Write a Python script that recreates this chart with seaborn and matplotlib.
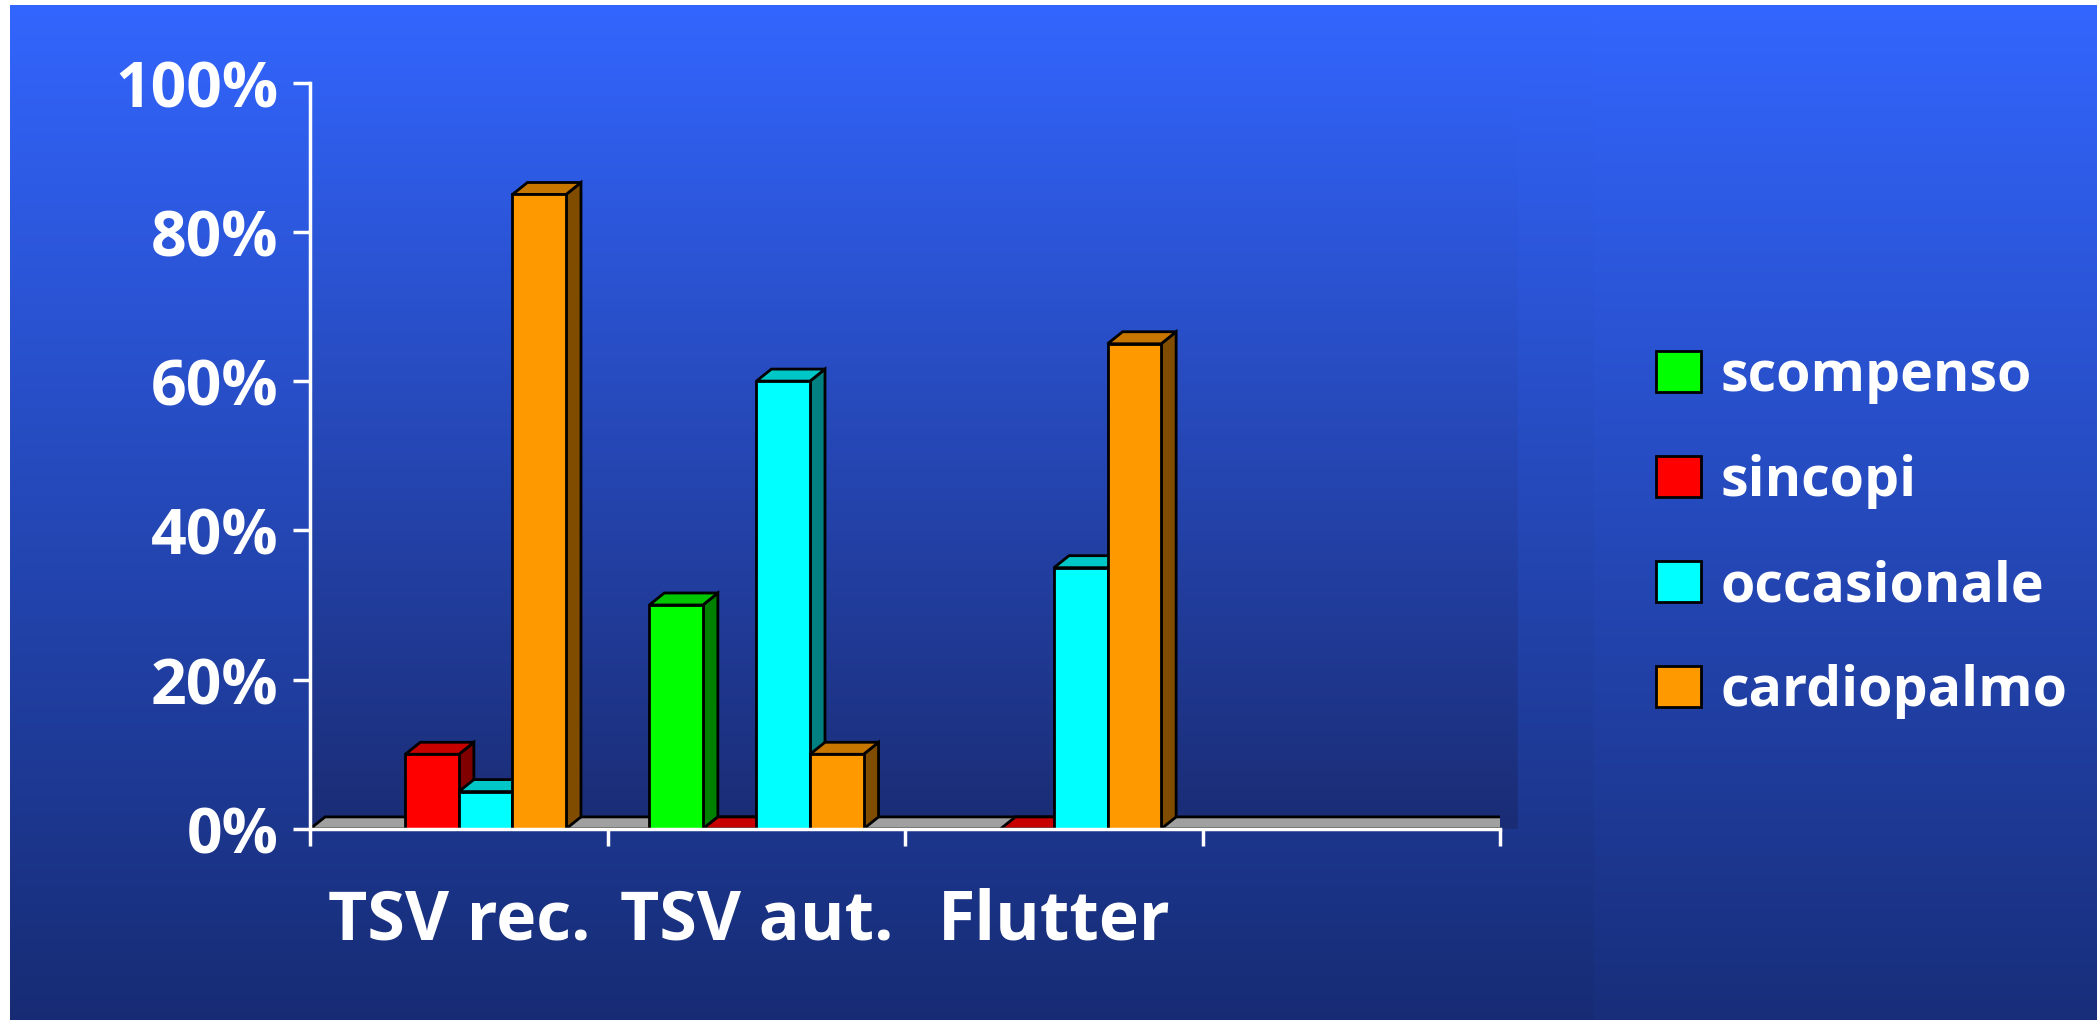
import numpy as np
import pandas as pd
import matplotlib
matplotlib.use("Agg")
import matplotlib.pyplot as plt
import seaborn as sns
from matplotlib.patches import Polygon, Patch
from matplotlib.colors import to_rgb

# data (None = no bar drawn)
categories = ["TSV rec.", "TSV aut.", "Flutter", ""]
series = ["scompenso", "sincopi", "occasionale", "cardiopalmo"]
scompenso = [None, 30, None, None]
sincopi = [10, 0, 0, None]
occasionale = [5, 60, 35, None]
cardiopalmo = [85, 10, 65, None]
colors = ["#00ff00", "#ff0000", "#00ffff", "#ff9900"]
yticks = [0, 20, 40, 60, 80, 100]

rows = []
for name, vals in zip(series, [scompenso, sincopi, occasionale, cardiopalmo]):
    for cat, v in zip(categories, vals):
        if v is not None:
            rows.append({"cat": cat, "serie": name, "val": v})
df = pd.DataFrame(rows)

W, H, DPI = 2097, 1020, 100
sns.set_theme(style="white")
plt.rcParams["font.family"] = ["Open Sans", "DejaVu Sans"]
plt.rcParams["font.weight"] = "bold"

fig = plt.figure(figsize=((W + 0.5) / DPI, (H + 0.5) / DPI), dpi=DPI, facecolor="white")

# slide background: vertical blue gradient, darker chart / plot areas
c_top = np.array(to_rgb("#3366ff"))
c_bot = np.array(to_rgb("#182e7a"))
t = (np.arange(H) / (H - 1))[:, None, None]
img = np.ones((H, W, 3)) * (c_top + (c_bot - c_top) * t)
img[:, 10:1593] *= (1 - 0.05 * t)
py0, py1 = 70, 829
tp = ((np.arange(py0, py1) - py0) / (py1 - py0))[:, None, None]
p_top = img[py0, 320]
p_bot = np.array(to_rgb("#1a2c74"))
img[py0:py1, 310:1517] = p_top + (p_bot - p_top) * tp
img[:6] = 1
img[:, :10] = 1
bg = fig.add_axes([0, 0, 1, 1], zorder=-10)
bg.imshow(np.clip(img, 0, 1), aspect="auto", interpolation="bilinear")
bg.axis("off")

ax = fig.add_axes([310 / W, 1 - 829 / H, 1190 / W, 746 / H])
ax.patch.set_alpha(0)
sns.barplot(data=df, x="cat", y="val", hue="serie", order=categories,
            hue_order=series, palette=colors, width=0.72, saturation=1,
            edgecolor="black", linewidth=2, errorbar=None, legend=False, ax=ax)
ax.set_xlim(-0.5, 3.5)
ax.set_ylim(0, 100)

# depth offset of the pseudo-3d look, in pixels -> data units
p0 = ax.transData.transform((0, 0))
q = ax.transData.inverted().transform(p0 + np.array([15, 12]))
ddx, ddy = q[0], q[1]

# floor
floor = Polygon([(-0.5, 0), (3.5, 0), (3.5 + ddx, ddy), (-0.5 + ddx, ddy)],
                closed=True, fc="#a0a0a0", ec="black", lw=2, zorder=2)
ax.add_patch(floor)

bars = [p for p in ax.patches if p is not floor and np.isfinite(p.get_height())]
bars.sort(key=lambda p: p.get_x())
for i, p in enumerate(bars):
    x0, w, h = p.get_x(), p.get_width(), p.get_height()
    base = np.array(to_rgb(p.get_facecolor()))
    z = 3 + 2 * i
    side = Polygon([(x0 + w, 0), (x0 + w + ddx, ddy), (x0 + w + ddx, h + ddy), (x0 + w, h)],
                   closed=True, fc=base * 0.5, ec="black", lw=2, zorder=z, clip_on=False)
    top = Polygon([(x0, h), (x0 + w, h), (x0 + w + ddx, h + ddy), (x0 + ddx, h + ddy)],
                  closed=True, fc=base * 0.78, ec="black", lw=2, zorder=z, clip_on=False)
    ax.add_patch(side)
    ax.add_patch(top)
    p.set_zorder(z + 1)
    p.set_clip_on(False)

# axes styling
for s in ["top", "right"]:
    ax.spines[s].set_visible(False)
for s in ["left", "bottom"]:
    ax.spines[s].set_color("white")
    ax.spines[s].set_linewidth(2.5)
    ax.spines[s].set_zorder(100)

ax.set_yticks(yticks)
ax.set_yticklabels([f"{v}%" for v in yticks])
ax.tick_params(axis="y", colors="white", length=12, width=2.5, pad=11,
               labelsize=45, direction="out", left=True)
ax.set_xticks([-0.5, 0.5, 1.5, 2.5, 3.5])
ax.set_xticklabels([])
ax.set_xticks(range(len(categories)), categories, minor=True)
ax.tick_params(axis="x", which="major", colors="white", length=12, width=2.5,
               direction="out", bottom=True)
ax.tick_params(axis="x", which="minor", length=0, pad=42, labelsize=49,
               labelcolor="white", bottom=True)
for lab in ax.get_xticklabels(minor=True) + ax.get_yticklabels():
    lab.set_fontweight("bold")
ax.set_xlabel("")
ax.set_ylabel("")

handles = [Patch(facecolor=c, edgecolor="black", linewidth=2) for c in colors]
fig.legend(handles, series, loc="center left", bbox_to_anchor=(1656 / W, 1 - 534 / H),
           frameon=False, prop={"size": 40, "weight": "bold"}, labelcolor="white",
           handlelength=0.81, handleheight=0.75, handletextpad=0.34,
           labelspacing=0.9, borderpad=0, borderaxespad=0)

fig.savefig("out.png", dpi=DPI, facecolor="white")
